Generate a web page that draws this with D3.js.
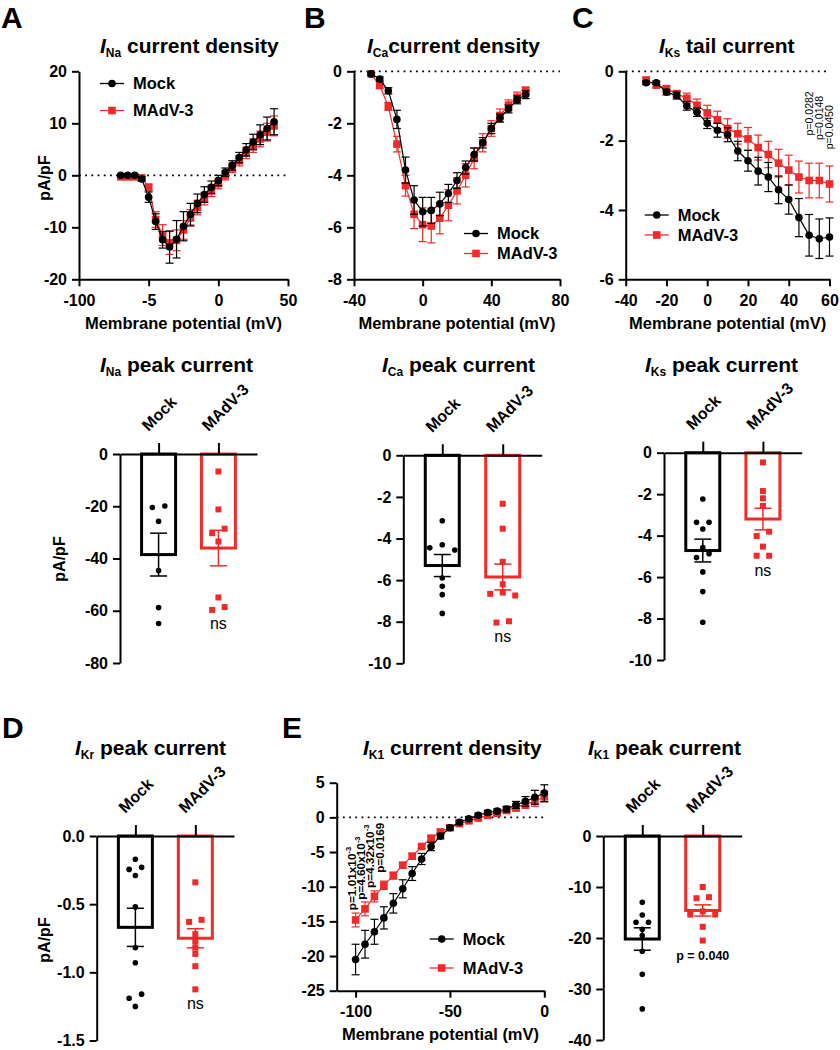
<!DOCTYPE html>
<html>
<head>
<meta charset="utf-8">
<script src="https://cdn.jsdelivr.net/npm/d3@7"></script>
<style>
body { margin: 0; background: #fff; }
svg { font-family: "Liberation Sans", Arial, Helvetica, sans-serif; }
text { white-space: pre; }
</style>
</head>
<body>
<div class="canvas"></div>
<script>
const groups = ['Mock', 'MAdV-3'];
const colour = { 'Mock': '#000', 'MAdV-3': '#ee2a2a' };

// A - INa current density
const naVoltage = [-70, -65, -60, -55, -50, -45, -40, -35, -30, -25, -20, -15, -10, -5, 0, 5, 10, 15, 20, 25, 30, 35, 40];
const naMock = [0, 0, 0, -0.7, -4.2, -8.9, -12.4, -13.8, -12.3, -9.8, -7.5, -5.4, -3.7, -2.3, -1.0, 0.6, 1.9, 3.4, 4.9, 6.4, 7.8, 9.0, 10.3];
const naMockSem = [0.1, 0.1, 0.1, 0.4, 1.0, 1.5, 1.6, 3.1, 3.6, 2.8, 2.1, 1.8, 1.5, 1.2, 1.0, 0.8, 0.9, 1.0, 1.2, 1.5, 1.9, 2.2, 2.5];
const naMadv = [-0.3, -0.3, -0.3, -0.5, -2.3, -8.5, -11.5, -13.0, -12.5, -10.5, -8.2, -6.2, -4.5, -3.0, -1.6, 0.0, 1.4, 2.8, 4.3, 5.7, 7.0, 8.3, 9.5];
const naMadvSem = [0.1, 0.1, 0.1, 0.3, 0.6, 1.5, 2.0, 2.2, 2.0, 1.8, 1.6, 1.4, 1.2, 1.1, 1.0, 0.9, 0.9, 1.0, 1.1, 1.3, 1.5, 1.7, 1.9];
const naXTicks = [-100, -50, 0, 50];
const naXLabels = ['-100', '-5', '0', '50'];
const naYTicks = [20, 10, 0, -10, -20];
const naYLabels = ['20', '10', '0', '-10', '-20'];

// B - ICa current density
const caVoltage = [-30, -25, -20, -15, -10, -5, 0, 5, 10, 15, 20, 25, 30, 35, 40, 45, 50, 55, 60];
const caMock = [-0.1, -0.3, -0.75, -1.85, -3.8, -4.95, -5.4, -5.35, -5.1, -4.7, -4.2, -3.7, -3.2, -2.75, -2.2, -1.8, -1.45, -1.1, -0.9];
const caMockSem = [0.05, 0.08, 0.12, 0.35, 0.5, 0.55, 0.55, 0.5, 0.45, 0.35, 0.3, 0.25, 0.25, 0.2, 0.2, 0.15, 0.15, 0.15, 0.15];
const caMadv = [-0.1, -0.55, -1.35, -2.8, -4.4, -5.5, -5.9, -5.95, -5.65, -5.15, -4.6, -4.0, -3.35, -2.75, -2.2, -1.7, -1.3, -1.0, -0.75];
const caMadvSem = [0.05, 0.1, 0.15, 0.3, 0.4, 0.55, 0.65, 0.65, 0.6, 0.6, 0.5, 0.45, 0.4, 0.35, 0.3, 0.25, 0.2, 0.2, 0.15];
const caXTicks = [-40, 0, 40, 80];
const caXLabels = ['-40', '0', '40', '80'];
const caYTicks = [0, -2, -4, -6, -8];
const caYLabels = ['0', '-2', '-4', '-6', '-8'];

// C - IKs tail current
const ksVoltage = [-30, -25, -20, -15, -10, -5, 0, 5, 10, 15, 20, 25, 30, 35, 40, 45, 50, 55, 60];
const ksMock = [-0.33, -0.33, -0.6, -0.7, -1.0, -1.18, -1.5, -1.7, -1.83, -2.3, -2.58, -2.88, -3.05, -3.42, -3.7, -4.22, -4.73, -4.83, -4.78];
const ksMockSem = [0.05, 0.05, 0.08, 0.1, 0.12, 0.12, 0.15, 0.2, 0.2, 0.28, 0.3, 0.4, 0.42, 0.4, 0.42, 0.55, 0.6, 0.57, 0.55];
const ksMadv = [-0.25, -0.4, -0.5, -0.65, -0.78, -0.98, -1.2, -1.4, -1.65, -1.8, -1.95, -2.2, -2.4, -2.65, -2.85, -3.05, -3.15, -3.15, -3.25];
const ksMadvSem = [0.05, 0.07, 0.08, 0.1, 0.15, 0.18, 0.22, 0.25, 0.28, 0.3, 0.33, 0.36, 0.38, 0.4, 0.43, 0.46, 0.5, 0.5, 0.52];
const ksXTicks = [-40, -20, 0, 20, 40, 60];
const ksXLabels = ['-40', '-20', '0', '20', '40', '60'];
const ksYTicks = [0, -2, -4, -6];
const ksYLabels = ['0', '-2', '-4', '-6'];
const ksPValues = ['p=0.0282', 'p=0.0148', 'p=0.0450'];
const ksPVoltage = [50, 55, 60];

// E - IK1 current density
const k1Voltage = [-100, -95, -90, -85, -80, -75, -70, -65, -60, -55, -50, -45, -40, -35, -30, -25, -20, -15, -10, -5, 0];
const k1Mock = [-20.5, -18.3, -16.5, -14.5, -12.4, -10.3, -8.1, -6.0, -4.2, -2.7, -1.5, -0.7, -0.2, 0.3, 0.7, 0.9, 1.2, 1.8, 2.3, 2.9, 3.5];
const k1MockSem = [2.2, 2.0, 1.8, 1.6, 1.4, 1.3, 1.0, 0.8, 0.6, 0.4, 0.3, 0.3, 0.3, 0.3, 0.3, 0.3, 0.4, 0.5, 0.7, 1.0, 1.2];
const k1Madv = [-14.8, -13.2, -11.4, -9.8, -8.4, -6.9, -5.6, -4.2, -3.0, -2.1, -1.5, -0.9, -0.5, -0.1, 0.3, 0.6, 1.0, 1.4, 1.9, 2.3, 3.0];
const k1MadvSem = [1.0, 1.0, 0.8, 0.6, 0.5, 0.4, 0.4, 0.3, 0.3, 0.3, 0.3, 0.3, 0.3, 0.3, 0.3, 0.3, 0.4, 0.5, 0.6, 0.7, 0.8];
const k1XTicks = [-100, -50, 0];
const k1XLabels = ['-100', '-50', '0'];
const k1YTicks = [5, 0, -5, -10, -15, -20, -25];
const k1YLabels = ['5', '0', '-5', '-10', '-15', '-20', '-25'];
const k1PValues = [['p=1.01x10', '-3'], ['p=4.60x10', '-3'], ['p=4.32x10', '-3'], ['p=0.0169', '']];
const k1PVoltage = [-100, -95, -90, -85];

// peak current bar charts: individual cells, mean and SEM per group
const naPeakMock = [-20.5, -19.9, -25.8, -44.6, -58.8, -64.9];
const naPeakMadv = [-6.7, -21.2, -30.3, -28.6, -33.5, -54.9, -59.7, -58.6];
const naPeakMean = [-38.5, -36.0];
const naPeakSem = [8.2, 6.8];
const naPeakTicks = [0, -20, -40, -60, -80];
const naPeakLabels = ['0', '-20', '-40', '-60', '-80'];

const caPeakMock = [-3.15, -4.55, -4.3, -4.45, -5.9, -6.3, -6.7, -7.6];
const caPeakMadv = [-2.33, -3.53, -5.12, -6.2, -6.66, -6.6, -6.74, -8.04, -7.98];
const caPeakMean = [-5.3, -5.85];
const caPeakSem = [0.53, 0.62];
const caPeakTicks = [0, -2, -4, -6, -8, -10];
const caPeakLabels = ['0', '-2', '-4', '-6', '-8', '-10'];

const ksPeakMock = [-2.23, -3.36, -3.36, -3.68, -4.57, -4.87, -5.06, -5.75, -6.7, -8.18];
const ksPeakMadv = [-0.47, -1.85, -2.2, -2.57, -3.81, -4.02, -4.53, -4.97, -4.97];
const ksPeakMean = [-4.72, -3.2];
const ksPeakSem = [0.55, 0.52];
const ksPeakTicks = [0, -2, -4, -6, -8, -10];
const ksPeakLabels = ['0', '-2', '-4', '-6', '-8', '-10'];

const krPeakMock = [-0.17, -0.23, -0.245, -0.29, -0.52, -0.82, -0.93, -1.16, -1.19, -1.25];
const krPeakMadv = [-0.34, -0.63, -0.615, -0.72, -0.775, -0.82, -0.865, -0.955, -1.125];
const krPeakMean = [-0.67, -0.75];
const krPeakSem = [0.14, 0.07];
const krPeakTicks = [0, -0.5, -1.0, -1.5];
const krPeakLabels = ['0.0', '-0.5', '-1.0', '-1.5'];

const k1PeakMock = [-13.0, -15.5, -16.9, -16.9, -18.3, -19.5, -22.6, -27.1, -33.9];
const k1PeakMadv = [-10.0, -12.0, -12.2, -14.8, -15.4, -15.4, -17.8, -20.5];
const k1PeakMean = [-20.2, -14.6];
const k1PeakSem = [2.2, 1.1];
const k1PeakTicks = [0, -10, -20, -30, -40];
const k1PeakLabels = ['0', '-10', '-20', '-30', '-40'];

const svg = d3.select('.canvas')
                .append('svg')
                .attr('width', 840)
                .attr('height', 1050);

function styleAxis(a) {
    a.attr('font-family', null).attr('font-size', null);
    a.select('.domain').attr('stroke', '#000').attr('stroke-width', 2);
    a.selectAll('.tick line').attr('stroke', '#000').attr('stroke-width', 2);
    a.selectAll('.tick text').attr('fill', '#000').attr('font-size', 16).attr('font-weight', 'bold');
}

function panelLetter(letter, x, y) {
    svg.append('text').attr('x', x).attr('y', y)
        .attr('font-size', 30).attr('font-weight', 'bold').text(letter);
}

function title(x, y, sub, rest) {
    const t = svg.append('text').attr('x', x).attr('y', y)
                .attr('font-size', 21).attr('font-weight', 'bold');
    t.append('tspan').attr('font-style', 'italic').text('I');
    t.append('tspan').attr('font-size', 12).attr('dy', 4).text(sub);
    t.append('tspan').attr('dy', -4).text(rest);
}

function yLabel(x, y) {
    svg.append('text').attr('transform', `translate(${x},${y}) rotate(-90)`)
        .attr('text-anchor', 'middle').attr('font-size', 16).attr('font-weight', 'bold')
        .text('pA/pF');
}

function marker(g, name, cx, cy, size) {
    if (name === 'Mock') {
        g.append('circle').attr('cx', cx).attr('cy', cy).attr('r', size / 2).attr('fill', colour[name]);
    } else {
        g.append('rect').attr('x', cx - size / 2).attr('y', cy - size / 2)
            .attr('width', size).attr('height', size).attr('fill', colour[name]);
    }
}

function legend(x0, y0, gap) {
    groups.forEach((name, i) => {
        const yy = y0 + i * gap;
        svg.append('line').attr('x1', x0 - 12).attr('x2', x0 + 12).attr('y1', yy).attr('y2', yy)
            .attr('stroke', colour[name]).attr('stroke-width', 1.3);
        marker(svg, name, x0, yy, 7.6);
        svg.append('text').attr('x', x0 + 21).attr('y', yy).attr('dy', '0.36em')
            .attr('font-size', 16.5).attr('font-weight', 'bold').text(name);
    });
}

// current-voltage plot with mean +/- SEM
function ivPanel(p) {
    const x = d3.scaleLinear().domain(p.xDomain).range([p.left, p.right]);
    const y = d3.scaleLinear().domain(p.yDomain).range([p.bottom, p.top]);
    const g = svg.append('g');

    g.append('line')
        .attr('x1', x(p.xDomain[0])).attr('x2', x(p.xDomain[1]))
        .attr('y1', y(0)).attr('y2', y(0))
        .attr('stroke', '#000').attr('stroke-width', 1.8).attr('stroke-dasharray', '1.8,4.4');

    const xAxis = d3.axisBottom(x).tickValues(p.xTicks).tickFormat((d, i) => p.xLabels[i])
                    .tickSize(7).tickPadding(8).tickSizeOuter(0);
    const yAxis = d3.axisLeft(y).tickValues(p.yTicks).tickFormat((d, i) => p.yLabels[i])
                    .tickSize(7).tickPadding(5).tickSizeOuter(0);
    styleAxis(g.append('g').attr('transform', `translate(0,${p.bottom})`).call(xAxis));
    styleAxis(g.append('g').attr('transform', `translate(${p.left},0)`).call(yAxis));

    // MAdV-3 first so Mock sits on top
    [['MAdV-3', p.madv, p.madvSem], ['Mock', p.mock, p.mockSem]].forEach(([name, vals, sem]) => {
        const c = colour[name];
        const sg = g.append('g');
        sg.append('path').datum(vals)
            .attr('fill', 'none').attr('stroke', c).attr('stroke-width', 1.2)
            .attr('d', d3.line().x((d, i) => x(p.volt[i])).y(d => y(d)));
        vals.forEach((d, i) => {
            const cx = x(p.volt[i]);
            const y1 = y(d + sem[i]), y2 = y(d - sem[i]);
            sg.append('line').attr('x1', cx).attr('x2', cx).attr('y1', y1).attr('y2', y2)
                .attr('stroke', c).attr('stroke-width', 1.2);
            [y1, y2].forEach(yy => sg.append('line').attr('x1', cx - 4).attr('x2', cx + 4)
                .attr('y1', yy).attr('y2', yy).attr('stroke', c).attr('stroke-width', 1.2));
        });
        vals.forEach((d, i) => marker(sg, name, x(p.volt[i]), y(d), 7.6));
    });

    svg.append('text').attr('x', (p.left + p.right) / 2).attr('y', p.bottom + 49.5)
        .attr('text-anchor', 'middle').attr('font-size', 16.5).attr('font-weight', 'bold')
        .text('Membrane potential (mV)');
    return { x, y };
}

// spread points that would overlap into centred rows
function swarmOffsets(values, y) {
    const order = values.map((v, i) => i).sort((a, b) => values[b] - values[a]);
    const off = values.map(() => 0);
    let cluster = [];
    const flush = () => {
        const n = cluster.length;
        const slots = [];
        if (n % 2) {
            slots.push(0);
            for (let k = 1; slots.length < n; k++) { slots.push(-k); slots.push(k); }
        } else {
            for (let k = 0.5; slots.length < n; k++) { slots.push(k); slots.push(-k); }
        }
        cluster.forEach((j, i) => off[j] = slots[i] * 12.5);
        cluster = [];
    };
    order.forEach(j => {
        if (cluster.length && Math.abs(y(values[j]) - y(values[cluster[cluster.length - 1]])) >= 6) flush();
        cluster.push(j);
    });
    flush();
    return off;
}

function barPanel(p) {
    const x = d3.scalePoint().domain(groups).range([p.left, p.right]).padding(0.645);
    const y = d3.scaleLinear().domain(p.yDomain).range([p.top, p.bottom]);
    const g = svg.append('g');
    const barW = 34;

    groups.forEach((name, i) => {
        const c = colour[name];
        const cx = x(name);
        g.append('rect')
            .attr('x', cx - barW / 2).attr('y', y(0))
            .attr('width', barW).attr('height', y(p.mean[i]) - y(0))
            .attr('fill', 'none').attr('stroke', c).attr('stroke-width', 3);
        const pts = p.points[i];
        const off = swarmOffsets(pts, y);
        pts.forEach((v, j) => marker(g, name, cx + off[j], y(v), name === 'Mock' ? 5.6 : 6));
        const y1 = y(p.mean[i] + p.sem[i]), y2 = y(p.mean[i] - p.sem[i]);
        g.append('line').attr('x1', cx).attr('x2', cx).attr('y1', y1).attr('y2', y2)
            .attr('stroke', c).attr('stroke-width', 1.5);
        [y1, y2].forEach(yy => g.append('line').attr('x1', cx - 8.5).attr('x2', cx + 8.5)
            .attr('y1', yy).attr('y2', yy).attr('stroke', c).attr('stroke-width', 1.5));
    });

    const yAxis = d3.axisLeft(y).tickValues(p.yTicks).tickFormat((d, i) => p.yLabels[i])
                    .tickSize(7).tickPadding(5).tickSizeOuter(0);
    const xAxis = d3.axisTop(x).tickSize(11).tickSizeOuter(0).tickFormat('');
    styleAxis(g.append('g').attr('transform', `translate(${p.left},0)`).call(yAxis));
    styleAxis(g.append('g').attr('transform', `translate(0,${y(0)})`).call(xAxis));

    groups.forEach(name => {
        g.append('text')
            .attr('transform', `translate(${x(name) - 10},${y(0) - 22}) rotate(-45)`)
            .attr('font-size', 16).attr('font-weight', 'bold').text(name);
    });

    if (p.note) {
        g.append('text').attr('x', x('MAdV-3')).attr('y', y(p.note.at)).attr('dy', '0.35em')
            .attr('text-anchor', 'middle').attr('font-size', p.note.size)
            .attr('font-weight', p.note.weight).text(p.note.text);
    }
}

// ---- top row ----
panelLetter('A', 1, 27.5);
panelLetter('B', 304, 27.5);
panelLetter('C', 572, 27.5);
title(100, 53, 'Na', ' current density');
title(367, 53, 'Ca', 'current density');
title(659, 53, 'Ks', ' tail current');

ivPanel({ xDomain: [-100, 50], yDomain: [-20, 20], left: 79, right: 288, top: 71.3, bottom: 279.3,
    xTicks: naXTicks, xLabels: naXLabels, yTicks: naYTicks, yLabels: naYLabels,
    volt: naVoltage, mock: naMock, mockSem: naMockSem, madv: naMadv, madvSem: naMadvSem });
yLabel(50, 178);
legend(112, 83.5, 27);

ivPanel({ xDomain: [-40, 80], yDomain: [-8, 0], left: 354, right: 560, top: 71.3, bottom: 279.3,
    xTicks: caXTicks, xLabels: caXLabels, yTicks: caYTicks, yLabels: caYLabels,
    volt: caVoltage, mock: caMock, mockSem: caMockSem, madv: caMadv, madvSem: caMadvSem });
legend(476, 233.5, 20);

const ks = ivPanel({ xDomain: [-40, 60], yDomain: [-6, 0], left: 625.7, right: 829.5, top: 71.3, bottom: 279.3,
    xTicks: ksXTicks, xLabels: ksXLabels, yTicks: ksYTicks, yLabels: ksYLabels,
    volt: ksVoltage, mock: ksMock, mockSem: ksMockSem, madv: ksMadv, madvSem: ksMadvSem });
legend(656.7, 215, 20);
const ksPBase = [-1.85, -1.98, -2.25];
ksPValues.forEach((t, i) => {
    svg.append('text')
        .attr('transform', `translate(${ks.x(ksPVoltage[i]) + 3.5},${ks.y(ksPBase[i])}) rotate(-90)`)
        .attr('font-size', 10.5).text(t);
});

// ---- middle row: peak currents ----
title(100, 372, 'Na', ' peak current');
title(382, 372, 'Ca', ' peak current');
title(645, 372, 'Ks', ' peak current');

barPanel({ left: 120, right: 257, top: 454, bottom: 663, yDomain: [0, -80],
    yTicks: naPeakTicks, yLabels: naPeakLabels,
    points: [naPeakMock, naPeakMadv], mean: naPeakMean, sem: naPeakSem,
    note: { text: 'ns', at: -64.7, size: 16, weight: 'normal' } });
yLabel(65, 559);

barPanel({ left: 403.3, right: 541.7, top: 455.3, bottom: 663.3, yDomain: [0, -10],
    yTicks: caPeakTicks, yLabels: caPeakLabels,
    points: [caPeakMock, caPeakMadv], mean: caPeakMean, sem: caPeakSem,
    note: { text: 'ns', at: -8.7, size: 16, weight: 'normal' } });

barPanel({ left: 664, right: 801.7, top: 452.7, bottom: 660, yDomain: [0, -10],
    yTicks: ksPeakTicks, yLabels: ksPeakLabels,
    points: [ksPeakMock, ksPeakMadv], mean: ksPeakMean, sem: ksPeakSem,
    note: { text: 'ns', at: -5.66, size: 16, weight: 'normal' } });

// ---- bottom row ----
panelLetter('D', 2, 738);
panelLetter('E', 282, 738);
title(75, 755, 'Kr', ' peak current');
title(363, 755, 'K1', ' current density');
title(588, 755, 'K1', ' peak current');

barPanel({ left: 96.7, right: 234, top: 836, bottom: 1040.5, yDomain: [0, -1.5],
    yTicks: krPeakTicks, yLabels: krPeakLabels,
    points: [krPeakMock, krPeakMadv], mean: krPeakMean, sem: krPeakSem,
    note: { text: 'ns', at: -1.23, size: 16, weight: 'normal' } });
yLabel(50, 940);

const k1 = ivPanel({ xDomain: [-110, 0], yDomain: [-25, 5], left: 336.7, right: 544.3, top: 782.7, bottom: 990.7,
    xTicks: k1XTicks, xLabels: k1XLabels, yTicks: k1YTicks, yLabels: k1YLabels,
    volt: k1Voltage, mock: k1Mock, mockSem: k1MockSem, madv: k1Madv, madvSem: k1MadvSem });
legend(441.7, 939, 29);
const k1PBase = [-13.4, -11.9, -10.2, -8.0];
k1PValues.forEach((t, i) => {
    const txt = svg.append('text')
        .attr('transform', `translate(${k1.x(k1PVoltage[i])},${k1.y(k1PBase[i])}) rotate(-90)`)
        .attr('font-size', 11.8).attr('font-weight', 'bold');
    txt.append('tspan').text(t[0]);
    if (t[1]) txt.append('tspan').attr('font-size', 7.5).attr('dy', -5).text(t[1]);
});

barPanel({ left: 603.3, right: 741.7, top: 836, bottom: 1040, yDomain: [0, -40],
    yTicks: k1PeakTicks, yLabels: k1PeakLabels,
    points: [k1PeakMock, k1PeakMadv], mean: k1PeakMean, sem: k1PeakSem,
    note: { text: 'p = 0.040', at: -23.4, size: 12.5, weight: 'bold' } });
</script>
</body>
</html>
